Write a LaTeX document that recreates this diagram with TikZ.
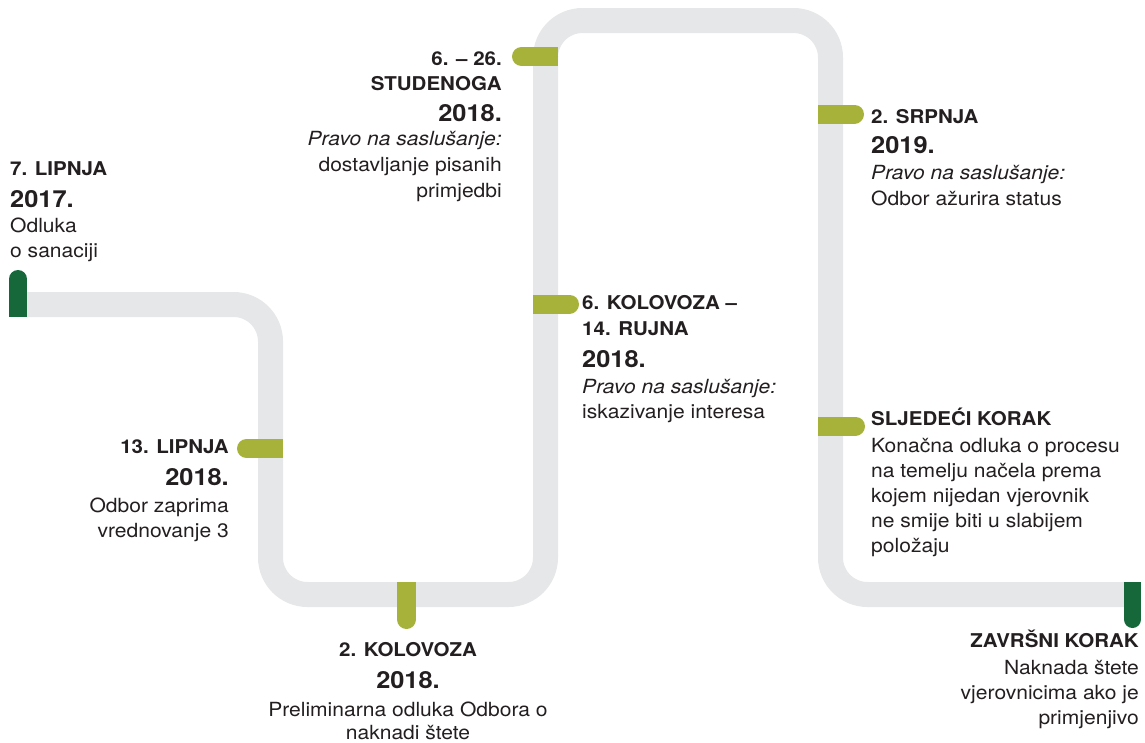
\documentclass[tikz,border=0pt]{standalone}
\usepackage{fontspec}
\setmainfont{TeX Gyre Heros}[FakeStretch=1.08]
\definecolor{trackgray}{HTML}{E6E7E8}
\definecolor{olive}{HTML}{A6B23A}
\definecolor{dkgreen}{HTML}{16683A}
\definecolor{ink}{HTML}{231F20}
\tikzset{
  track/.style={line width=25pt, draw=trackgray, rounded corners=37pt},
  pill/.style={line cap=round},
  txt/.style={inner sep=0pt, text=ink},
  lab/.style={txt, font=\bfseries\fontsize{19}{24}\selectfont},
  yr/.style={txt, font=\bfseries\fontsize{23.5}{28}\selectfont},
  bd/.style={txt, font=\fontsize{19.5}{25}\selectfont},
  it/.style={txt, font=\itshape\fontsize{19.5}{25}\selectfont},
}
\begin{document}
\begin{tikzpicture}[x=1pt,y=-1pt]
\useasboundingbox (0,0) rectangle (1145,742);

% track
\draw[track] (27,304.5) -- (270.5,304.5) -- (270.5,594.5) -- (545.5,594.5)
  -- (545.5,20.5) -- (830.5,20.5) -- (830.5,594.5) -- (1124,594.5);

% start marker (dark green, rounded top)
\draw[pill, dkgreen, line width=18pt] (18,279) -- (18,308);
\fill[dkgreen] (9,308) rectangle (27,317);
% end marker (dark green, rounded bottom)
\draw[pill, dkgreen, line width=17pt] (1132.5,590.5) -- (1132.5,619.5);
\fill[dkgreen] (1124,582) rectangle (1141,590.5);

% 13. lipnja (rounded left)
\draw[pill, olive, line width=19pt] (246.5,448.5) -- (273.5,448.5);
\fill[olive] (273.5,439) rectangle (283,458);
% 2. kolovoza (rounded bottom)
\draw[pill, olive, line width=19pt] (406.5,591.5) -- (406.5,619.5);
\fill[olive] (397,582) rectangle (416,591.5);
% 6.-26. studenoga (rounded left)
\draw[pill, olive, line width=19pt] (521.5,56.5) -- (548.5,56.5);
\fill[olive] (548.5,47) rectangle (558,66);
% 6. kolovoza - 14. rujna (rounded right)
\draw[pill, olive, line width=19pt] (542.5,304) -- (569.5,304);
\fill[olive] (533,294.5) rectangle (542.5,313.5);
% 2. srpnja (rounded right)
\draw[pill, olive, line width=19pt] (827.5,114) -- (854.5,114);
\fill[olive] (818,104.5) rectangle (827.5,123.5);
% sljedeci korak (rounded right)
\draw[pill, olive, line width=19pt] (827.5,426) -- (855.5,426);
\fill[olive] (818,416.5) rectangle (827.5,435.5);

% group A
\node[lab, anchor=base west] (a1) at (10,175) {7. LIPNJA};
\node[yr,  anchor=base west] (a2) at (10,207) {2017.};
\node[bd,  anchor=base west] (a3) at (10,232) {Odluka};
\node[bd,  anchor=base west] (a4) at (10,257) {o sanaciji};

% group B
\node[lab, anchor=base east] (b1) at (229,453) {13. LIPNJA};
\node[yr,  anchor=base east] (b2) at (229,485) {2018.};
\node[bd,  anchor=base east] (b3) at (229,512) {Odbor zaprima};
\node[bd,  anchor=base east] (b4) at (229,537) {vrednovanje 3};

% group C
\node[lab, anchor=base] (c1) at (408,656) {2. KOLOVOZA};
\node[yr,  anchor=base] (c2) at (408,688) {2018.};
\node[bd,  anchor=base] (c3) at (408,716) {Preliminarna odluka Odbora o};
\node[bd,  anchor=base] (c4) at (408,739) {naknadi štete};

% group D
\node[lab, anchor=base east] (d1) at (502,65) {6. – 26.};
\node[lab, anchor=base east] (d2) at (502,90) {STUDENOGA};
\node[yr,  anchor=base east] (d3) at (502,121) {2018.};
\node[it,  anchor=base east] (d4) at (502,145) {Pravo na saslušanje:};
\node[bd,  anchor=base east] (d5) at (502,171) {dostavljanje pisanih};
\node[bd,  anchor=base east] (d6) at (502,197) {primjedbi};

% group E
\node[lab, anchor=base west] (e1) at (582,309) {6. KOLOVOZA –};
\node[lab, anchor=base west] (e2) at (582,335) {14. RUJNA};
\node[yr,  anchor=base west] (e3) at (582,367) {2018.};
\node[it,  anchor=base west] (e4) at (582,393) {Pravo na saslušanje:};
\node[bd,  anchor=base west] (e5) at (582,418) {iskazivanje interesa};

% group F
\node[lab, anchor=base west] (f1) at (871,123) {2. SRPNJA};
\node[yr,  anchor=base west] (f2) at (871,153) {2019.};
\node[it,  anchor=base west] (f3) at (871,179) {Pravo na saslušanje:};
\node[bd,  anchor=base west] (f4) at (871,205) {Odbor ažurira status};

% group G
\node[lab, anchor=base west] (g1) at (871,425) {SLJEDEĆI KORAK};
\node[bd,  anchor=base west] (g2) at (871,452) {Konačna odluka o procesu};
\node[bd,  anchor=base west] (g3) at (871,477) {na temelju načela prema};
\node[bd,  anchor=base west] (g4) at (871,502) {kojem nijedan vjerovnik};
\node[bd,  anchor=base west] (g5) at (871,527) {ne smije biti u slabijem};
\node[bd,  anchor=base west] (g6) at (871,552) {položaju};

% group H
\node[lab, anchor=base east] (h1) at (1139,647) {ZAVRŠNI KORAK};
\node[bd,  anchor=base east] (h2) at (1139,674) {Naknada štete};
\node[bd,  anchor=base east] (h3) at (1139,699) {vjerovnicima ako je};
\node[bd,  anchor=base east] (h4) at (1139,724) {primjenjivo};
\end{tikzpicture}
\end{document}
